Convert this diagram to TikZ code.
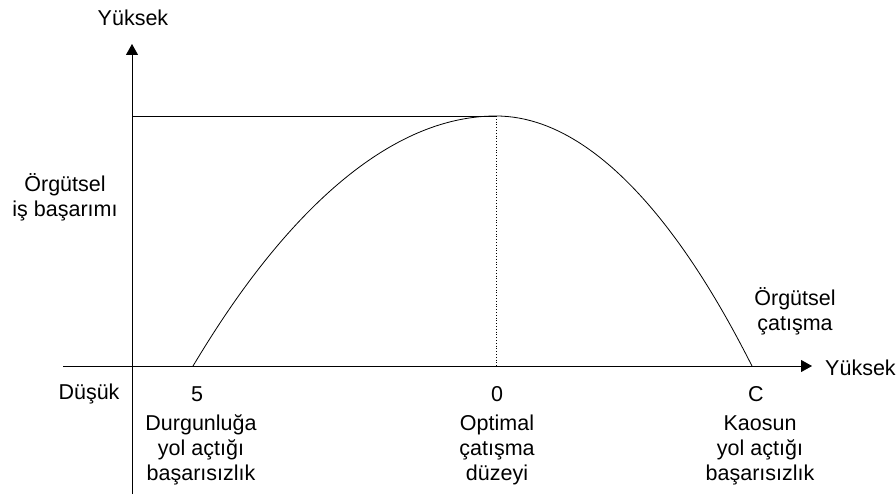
\documentclass[tikz,border=0pt]{standalone}
\usepackage{fontspec}
\setmainfont{Liberation Sans}
\usetikzlibrary{arrows.meta}

\begin{document}
\begin{tikzpicture}[x=1pt,y=1pt,
  axis/.style={line width=0.9pt, -{Triangle[length=11pt,width=12pt]}},
  thin line/.style={line width=0.8pt},
  lbl/.style={font=\fontsize{21.5}{25}\selectfont, align=center, inner sep=0pt}]
\useasboundingbox (0,0) rectangle (896,499);
% axes
\coordinate (ybot) at (132,5);
\coordinate (ytop) at (132,455);
\coordinate (xleft) at (63,133);
\coordinate (xright) at (812,133);
\draw[axis] (ybot) -- (ytop);
\draw[axis] (xleft) -- (xright);
% curve
\coordinate (left root) at (193,133);
\coordinate (peak) at (496,383);
\coordinate (right root) at (752,133);
\coordinate (peak axis) at (132,383);
\coordinate (peak foot) at (496,133);
\draw[thin line] (peak axis) -- (peak);
\draw[thin line, dotted] (peak) -- (peak foot);
\draw[thin line] (left root) parabola bend (peak) (right root);
% labels
\node[lbl] (high y) at (133,481) {Yüksek};
\node[lbl] (perf) at (65,302) {Örgütsel\\iş başarımı};
\node[lbl] (low) at (89,105) {Düşük};
\node[lbl, anchor=west] (high x) at (825,131) {Yüksek};
\node[lbl] (conflict) at (795,188) {Örgütsel\\çatışma};
\node[lbl] (n5) at (197,105) {5};
\node[lbl] (n0) at (497,105) {0};
\node[lbl] (nC) at (756,105) {C};
\node[lbl] (stag) at (201,49) {Durgunluğa\\yol açtığı\\başarısızlık};
\node[lbl] (optimal) at (497,49) {Optimal\\çatışma\\düzeyi};
\node[lbl] (chaos) at (760,49) {Kaosun\\yol açtığı\\başarısızlık};
\end{tikzpicture}
\end{document}
